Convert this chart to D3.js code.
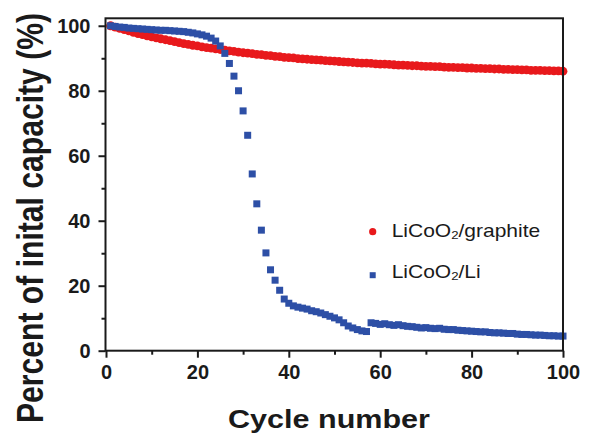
<!DOCTYPE html>
<html>
<head>
<meta charset="utf-8">
<script src="https://cdn.jsdelivr.net/npm/d3@7"></script>
<style>
  html, body { margin: 0; padding: 0; background: #fff; }
  svg { display: block; }
  text { font-family: Arial, "Liberation Sans", Helvetica, sans-serif; }
</style>
</head>
<body>
<svg id="chart" width="590" height="435"></svg>
<script>
// ---- data ----
const cycles = d3.range(1, 101);
const graphite = [
  100.0, 99.6, 99.2, 98.8, 98.4, 98.0, 97.6, 97.3, 96.9, 96.6,
  96.3, 96.0, 95.7, 95.4, 95.1, 94.8, 94.5, 94.3, 94.0, 93.8,
  93.5, 93.3, 93.1, 92.9, 92.7, 92.5, 92.3, 92.1, 91.9, 91.7,
  91.6, 91.4, 91.2, 91.1, 90.9, 90.8, 90.6, 90.5, 90.3, 90.2,
  90.1, 89.9, 89.8, 89.7, 89.6, 89.5, 89.4, 89.3, 89.2, 89.1,
  89.0, 88.9, 88.8, 88.7, 88.6, 88.5, 88.5, 88.4, 88.3, 88.2,
  88.2, 88.1, 88.0, 87.9, 87.9, 87.8, 87.7, 87.7, 87.6, 87.5,
  87.5, 87.4, 87.4, 87.3, 87.2, 87.2, 87.1, 87.1, 87.0, 87.0,
  86.9, 86.9, 86.8, 86.8, 86.7, 86.7, 86.6, 86.6, 86.5, 86.5,
  86.4, 86.4, 86.3, 86.3, 86.3, 86.2, 86.2, 86.1, 86.1, 86.0
];
const lithium = [
  100.0, 99.8, 99.6, 99.5, 99.3, 99.2, 99.1, 99.0, 98.9, 98.8,
  98.7, 98.6, 98.6, 98.5, 98.4, 98.3, 98.2, 98.0, 97.8, 97.5,
  97.2, 96.8, 96.2, 95.3, 93.8, 91.5, 88.4, 84.5, 80.0, 73.8,
  66.3, 54.4, 45.2, 37.1, 30.1, 24.9, 21.7, 18.6, 15.9, 14.6,
  13.8, 13.4, 13.1, 12.8, 12.3, 12.0, 11.6, 11.1, 10.6, 10.1,
  9.5, 8.6, 7.6, 7.0, 6.5, 6.1, 5.9, 8.6, 8.4, 8.1,
  8.3, 8.0, 7.8, 8.0, 7.7, 7.5, 7.4, 7.2, 7.0, 7.1,
  6.9, 6.8, 6.9, 6.6, 6.5, 6.5, 6.3, 6.2, 6.1, 6.0,
  5.9, 5.8, 5.8, 5.6, 5.5, 5.5, 5.4, 5.3, 5.3, 5.1,
  5.0, 5.0, 4.9, 4.8, 4.8, 4.7, 4.6, 4.6, 4.5, 4.5
];
const xTicks = [0, 20, 40, 60, 80, 100];
const yTicks = [0, 20, 40, 60, 80, 100];
const xMinor = [10, 30, 50, 70, 90];
const yMinor = [10, 30, 50, 70, 90];
const seriesNames = ["LiCoO2/graphite", "LiCoO2/Li"];
const xTitle = "Cycle number";
const yTitle = "Percent of inital capacity (%)";

const RED = "#e8191c";
const BLUE = "#2d4fa6";
const INK = "#1a1a1a";

// ---- scales ----
const svg = d3.select("#chart");
const x = d3.scaleLinear().domain([0, 100]).range([106, 563]);
const y = d3.scaleLinear().domain([0, 102.3]).range([350.7, 18.3]);

// ---- series ----
const gRed = svg.append("g");
gRed.selectAll("circle").data(cycles).join("circle")
  .attr("cx", (d) => x(d))
  .attr("cy", (d, i) => y(graphite[i]))
  .attr("r", 4.4)
  .attr("fill", RED);

const sq = 7;
const gBlue = svg.append("g");
gBlue.selectAll("rect").data(cycles).join("rect")
  .attr("x", (d) => x(d) - sq / 2)
  .attr("y", (d, i) => y(lithium[i]) - sq / 2)
  .attr("width", sq)
  .attr("height", sq)
  .attr("fill", BLUE);

// ---- frame ----
svg.append("rect")
  .attr("x", x(0) - 0.5).attr("y", y(102.3))
  .attr("width", x(100) - x(0) + 0.5).attr("height", y(0) - y(102.3))
  .attr("fill", "none").attr("stroke", INK).attr("stroke-width", 2);

// ---- axes ----
function styleAxis(g) {
  g.select(".domain").remove();
  g.selectAll(".tick line").attr("stroke", INK).attr("stroke-width", 2);
  g.selectAll(".tick text")
    .attr("fill", INK)
    .style("font-size", "20px")
    .style("font-weight", "bold");
}
const xAxis = svg.append("g").attr("transform", `translate(0,${y(0)})`)
  .call(d3.axisBottom(x).tickValues(xTicks).tickSize(7).tickPadding(7.5).tickFormat(d3.format("d")));
styleAxis(xAxis);
const xAxisMinor = svg.append("g").attr("transform", `translate(0,${y(0)})`)
  .call(d3.axisBottom(x).tickValues(xMinor).tickSize(4).tickFormat(""));
styleAxis(xAxisMinor);

const yAxis = svg.append("g").attr("transform", `translate(${x(0) - 0.5},0)`)
  .call(d3.axisLeft(y).tickValues(yTicks).tickSize(7).tickPadding(8).tickFormat(d3.format("d")));
styleAxis(yAxis);
const yAxisMinor = svg.append("g").attr("transform", `translate(${x(0) - 0.5},0)`)
  .call(d3.axisLeft(y).tickValues(yMinor).tickSize(4).tickFormat(""));
styleAxis(yAxisMinor);

// ---- titles ----
svg.append("text")
  .attr("x", 329).attr("y", 428)
  .attr("text-anchor", "middle")
  .attr("textLength", 202).attr("lengthAdjust", "spacingAndGlyphs")
  .style("font-size", "26px").style("font-weight", "bold")
  .attr("fill", INK)
  .text(xTitle);

svg.append("text")
  .attr("transform", "translate(43,218) scale(1.22,1) rotate(-90)")
  .attr("text-anchor", "middle")
  .attr("textLength", 410).attr("lengthAdjust", "spacingAndGlyphs")
  .style("font-size", "30px").style("font-weight", "bold")
  .attr("fill", INK)
  .text(yTitle);

// ---- legend ----
function legendLabel(g, name) {
  const parts = name.split("2");
  const t = g.append("text")
    .attr("fill", INK)
    .style("font-size", "17.5px");
  t.append("tspan").text(parts[0]);
  t.append("tspan").attr("dy", 2).style("font-size", "11px").text("2");
  t.append("tspan").attr("dy", -2).text(parts[1]);
}
const leg1 = svg.append("g");
leg1.append("circle").attr("cx", 372.7).attr("cy", 231.7).attr("r", 3.6).attr("fill", RED);
legendLabel(leg1.append("g").attr("transform", "translate(391.7,236.7) scale(1.2,1)"), seriesNames[0]);

const leg2 = svg.append("g");
leg2.append("rect").attr("x", 369.7).attr("y", 272.2).attr("width", 6).attr("height", 6).attr("fill", BLUE);
legendLabel(leg2.append("g").attr("transform", "translate(391.7,278.3) scale(1.2,1)"), seriesNames[1]);
</script>
</body>
</html>
